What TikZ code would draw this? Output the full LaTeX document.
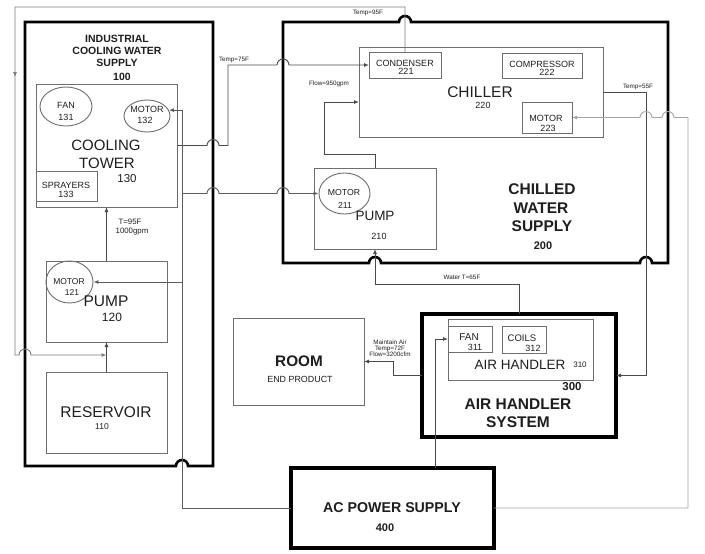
\documentclass[tikz,border=0pt]{standalone}
\usepackage{fontspec}
\setmainfont{Liberation Sans}
\usetikzlibrary{arrows.meta,calc,fit,shapes.geometric,decorations.markings}
\definecolor{linec}{HTML}{4A4A4A}
\definecolor{retc}{HTML}{7C7C7C}
\definecolor{boxc}{HTML}{6E6E6E}
\definecolor{pwrl}{HTML}{5C5C5C}
\definecolor{pwrr}{HTML}{A6A6A6}
\definecolor{txtc}{HTML}{1E1E1E}
\newcommand\fsz[1]{\fontsize{#1}{#1}\selectfont}
\newcommand\hopLR[1]{-- ($(#1)+(-6,0)$) arc[start angle=180,end angle=360,radius=6]}
\newcommand\hopRL[1]{-- ($(#1)+(6,0)$) arc[start angle=0,end angle=-180,radius=6]}
\begin{document}
\begin{tikzpicture}[x=1pt,y=-1pt,
  flow/.style={draw=linec, line width=0.9pt},
  ret/.style={draw=retc, line width=0.9pt},
  pl/.style={draw=pwrl, line width=0.9pt},
  pr/.style={draw=pwrr, line width=0.9pt},
  tip/.style={-{Latex[length=5pt,width=4pt]}},
  thinbox/.style={draw=boxc, line width=0.9pt},
  fitbox/.style={inner sep=0pt, outer sep=0pt},
  midbox/.style={draw=black, line width=2.6pt, line join=miter},
  heavybox/.style={draw=black, line width=3.4pt},
  oval/.style={ellipse, thinbox, inner sep=0pt},
  txt/.style={inner sep=0pt, text=txtc},
  lbl/.style={inner sep=0pt, text=txtc, font=\fsz{6.3}},
]
\fill[white] (0,0) rectangle (705,554);
\useasboundingbox (0,0) rectangle (705,554);

% helper coordinates for bends
\coordinate (pL) at (182,508);
\coordinate (pR) at (688,508);
\coordinate (cR) at (646,92);
\coordinate (tA) at (228,145.5);
\coordinate (fA) at (324,154);
\coordinate (fB) at (324,102);
\coordinate (wA) at (375,284);
\coordinate (rA) at (393,361.5);
\coordinate (fX) at (435,339);
\coordinate (rT) at (15,7);
\coordinate (rB) at (15,355);

% ---------- Industrial cooling water supply 100
\node[fitbox, fit={(25,22)(213,466)}] (ics) {};
\node[fitbox, thinbox, fit={(36,84)(177,207)}] (tower) {};
\node[fitbox, thinbox, fit={(36,171)(97,201)}] (spray) {};
\node[oval, minimum width=52pt, minimum height=39pt] (fan131) at (66,106.5) {};
\node[oval, minimum width=46pt, minimum height=32pt] (motor132) at (147,116) {};
\node[fitbox, thinbox, fit={(46,261)(167,342)}] (pump120) {};
\node[oval, minimum width=47pt, minimum height=42pt] (motor121) at (69.5,282) {};
\node[fitbox, thinbox, fit={(46,372)(167,453)}] (reservoir) {};

% ---------- Chilled water supply 200
\node[fitbox, fit={(283,22)(668,263)}] (cws) {};
\node[fitbox, thinbox, fit={(359,47)(603,137)}] (chiller) {};
\node[fitbox, thinbox, fit={(369,52)(441,78)}] (condenser) {};
\node[fitbox, thinbox, fit={(502,53)(582,78)}] (compressor) {};
\node[fitbox, thinbox, fit={(522,102)(572,133)}] (motor223) {};
\node[fitbox, thinbox, fit={(314,168)(436,249)}] (pump210) {};
\node[oval, minimum width=51pt, minimum height=41pt] (motor211) at (344.5,193.5) {};

% ---------- Room, air handler system, power
\node[fitbox, thinbox, fit={(233,318)(364,405)}] (room) {};
\node[fitbox, heavybox, fit={(422,314)(616,437)}] (ahs) {};
\node[fitbox, thinbox, fit={(448,319)(593,380)}] (ah310) {};
\node[fitbox, thinbox, fit={(448,326)(492,352)}] (fan311) {};
\node[fitbox, thinbox, fit={(502,326)(546,353)}] (coils) {};
\node[fitbox, heavybox, fit={(291,468)(494,548)}] (ac) {};

% ---------- heavy outlines with hops
\draw[midbox] (ics.south east) -- (ics.north east) -- (ics.north west) -- (ics.south west)
  \hopLR{pL |- ics.south} -- cycle;
\draw[midbox] (cws.north west) \hopLR{condenser.north |- cws.north} -- (cws.north east)
  -- (cws.south east) \hopRL{cR |- cws.south} \hopRL{pump210.south |- cws.south}
  -- (cws.south west) -- cycle;

% ---------- water connectors
\draw[ret, tip, postaction={decorate},
  decoration={markings, mark=at position 505pt with {\arrow{Latex[length=5pt,width=4pt]}}}]
  (condenser.north) -- (condenser.north |- rT) -- (rT) -- (rB)
  \hopLR{ics.west |- rB} -- (pump120.south |- rB);
\draw[flow, tip] (tower.east) \hopLR{ics.east |- tower.east} -- (tA)
  -- (tA |- condenser.west) \hopLR{cws.west |- condenser.west} -- (condenser.west);
\draw[flow, tip] (pump120.north) -- (tower.south);
\draw[flow, tip] (reservoir.north) -- (pump120.south);
\draw[flow, tip] (pump210.north) -- (pump210.north |- fA) -- (fA) -- (fB) -- (chiller.west |- fB);
\draw[flow, tip] (ahs.north) -- (ahs.north |- wA) -- (wA) -- (pump210.south);
\draw[flow, tip] (chiller.east) -- (cR) -- (cR |- ahs.east) -- (ahs.east);
\draw[flow, tip] (ahs.west) -- (rA |- ahs.west) -- (rA) -- (room.east);

% ---------- power connectors
\draw[pl, tip] (ac.west) -- (pL) -- (pL |- motor132.15) -- (motor132.15);
\draw[pl, tip] (pL |- motor121.east) -- (motor121.east);
\draw[pl, tip] (pL |- motor211.west) \hopLR{ics.east |- motor211.west}
  \hopLR{cws.west |- motor211.west} -- (motor211.west);
\draw[pr, tip] (ac.east) -- (pR) -- (pR |- motor223.east)
  \hopRL{cws.east |- motor223.east} \hopRL{cR |- motor223.east} -- (motor223.east);
\draw[flow, tip] (fX |- ac.north) -- (fX) -- (fan311.west);

% ---------- texts 100
\node[txt, align=center, font=\bfseries\fsz{10.5}] (t100) at (117,51) {INDUSTRIAL\\[1.5pt]COOLING WATER\\[1.5pt]SUPPLY};
\node[txt, font=\bfseries\fsz{10.5}] (t100n) at (122,77) {100};
\node[txt, font=\fsz{9}] (tfan) at (66,105) {FAN};
\node[txt, font=\fsz{9}] (tfann) at (66,117) {131};
\node[txt, font=\fsz{9}] (tm132) at (147,109.5) {MOTOR};
\node[txt, font=\fsz{9}] (tm132n) at (145,120.5) {132};
\node[txt, font=\fsz{15}] (tcool) at (106,145) {COOLING};
\node[txt, font=\fsz{15}] (ttower) at (107,163) {TOWER};
\node[txt, font=\fsz{11.5}] (t130) at (127,179) {130};
\node[txt, font=\fsz{9}] (tspr) at (66,185) {SPRAYERS};
\node[txt, font=\fsz{9}] (tsprn) at (66,194.5) {133};
\node[lbl, font=\fsz{7.8}] (tT95) at (130,222) {T=95F};
\node[lbl, font=\fsz{7.8}] (tgpm) at (132,232) {1000gpm};
\node[txt, font=\fsz{8.5}] (tm121) at (69,281.5) {MOTOR};
\node[txt, font=\fsz{8.5}] (tm121n) at (72,293) {121};
\node[txt, font=\fsz{15.5}] (tpump) at (106,301) {PUMP};
\node[txt, font=\fsz{12}] (t120) at (112,317) {120};
\node[txt, font=\fsz{15.5}] (tres) at (106,412) {RESERVOIR};
\node[txt, font=\fsz{8.5}] (t110) at (102,427) {110};

% ---------- texts 200
\node[txt, font=\fsz{9}] (tcond) at (405,63.5) {CONDENSER};
\node[txt, font=\fsz{9}] (tcondn) at (406,71.5) {221};
\node[txt, font=\fsz{9}] (tcomp) at (542,64) {COMPRESSOR};
\node[txt, font=\fsz{9}] (tcompn) at (547,72.5) {222};
\node[txt, font=\fsz{15.5}] (tchil) at (480,92) {CHILLER};
\node[txt, font=\fsz{9}] (t220) at (483,105.5) {220};
\node[txt, font=\fsz{9}] (tm223) at (546,118) {MOTOR};
\node[txt, font=\fsz{9}] (tm223n) at (548,128) {223};
\node[txt, font=\fsz{8.7}] (tm211) at (344,193) {MOTOR};
\node[txt, font=\fsz{8.7}] (tm211n) at (345,205) {211};
\node[txt, font=\fsz{13.5}] (tp210) at (375,216) {PUMP};
\node[txt, font=\fsz{9}] (t210) at (379,236) {210};
\node[txt, font=\bfseries\fsz{15.5}] (tchl) at (542,189) {CHILLED};
\node[txt, font=\bfseries\fsz{15.5}] (twat) at (541,208) {WATER};
\node[txt, font=\bfseries\fsz{15.5}] (tsup) at (542,226) {SUPPLY};
\node[txt, font=\bfseries\fsz{11}] (t200) at (543,246) {200};

% ---------- texts lower
\node[txt, font=\bfseries\fsz{15.3}] (troom) at (299,361) {ROOM};
\node[txt, font=\fsz{8.9}] (tend) at (300,379) {END PRODUCT};
\node[txt, font=\fsz{10}] (tfan311) at (469,337.5) {FAN};
\node[txt, font=\fsz{9}] (tfan311n) at (475,347.5) {311};
\node[txt, font=\fsz{9.5}] (tcoil) at (522,338) {COILS};
\node[txt, font=\fsz{9}] (tcoiln) at (533,348) {312};
\node[txt, font=\fsz{13.5}] (tah) at (520,365) {AIR HANDLER};
\node[txt, font=\fsz{8}] (t310) at (580,365) {310};
\node[txt, font=\bfseries\fsz{11.5}] (t300) at (572,387) {300};
\node[txt, font=\bfseries\fsz{15.5}] (tahs1) at (518,404) {AIR HANDLER};
\node[txt, font=\bfseries\fsz{15.5}] (tahs2) at (518,422) {SYSTEM};
\node[txt, font=\bfseries\fsz{14.2}] (tac) at (392,508) {AC POWER SUPPLY};
\node[txt, font=\bfseries\fsz{11}] (t400) at (385,528) {400};

% ---------- connector labels
\node[lbl] (lT95) at (368,13) {Temp=95F};
\node[lbl] (lT75) at (234,60) {Temp=75F};
\node[lbl] (lflow) at (329,84) {Flow=950gpm};
\node[lbl] (lT55) at (638,87) {Temp=55F};
\node[lbl] (lwat) at (462,277) {Water T=65F};
\node[lbl, align=center, font=\fsz{6.3}] (lair) at (390,348) {Maintain Air\\[-0.5pt]Temp=72F\\[-0.5pt]Flow=3200cfm};
\end{tikzpicture}
\end{document}
